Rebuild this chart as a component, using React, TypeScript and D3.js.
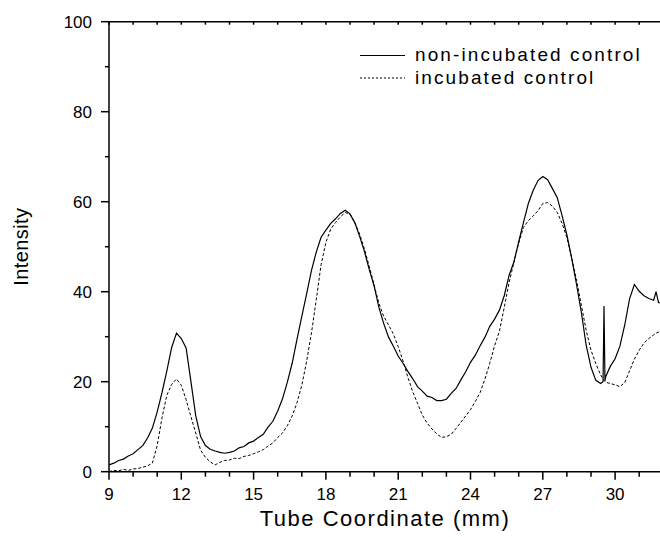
import React from "react";
import * as d3 from "d3";

const xs = [
  9.0, 9.2, 9.4, 9.6, 9.8, 10.0, 10.2, 10.4, 10.6, 10.8, 11.0, 11.2, 11.4, 11.6, 11.8, 12.0, 12.2, 12.4, 12.6, 12.8,
  13.0, 13.2, 13.4, 13.6, 13.8, 14.0, 14.2, 14.4, 14.6, 14.8, 15.0, 15.2, 15.4, 15.6, 15.8, 16.0, 16.2, 16.4, 16.6, 16.8,
  17.0, 17.2, 17.4, 17.6, 17.8, 18.0, 18.2, 18.4, 18.6, 18.8, 19.0, 19.2, 19.4, 19.6, 19.8, 20.0, 20.2, 20.4, 20.6, 20.8,
  21.0, 21.2, 21.4, 21.6, 21.8, 22.0, 22.2, 22.4, 22.6, 22.8, 23.0, 23.2, 23.4, 23.6, 23.8, 24.0, 24.2, 24.4, 24.6, 24.8,
  25.0, 25.2, 25.4, 25.6, 25.8, 26.0, 26.2, 26.4, 26.6, 26.8, 27.0, 27.2, 27.4, 27.6, 27.8, 28.0, 28.2, 28.4, 28.6, 28.8,
  29.0, 29.2, 29.4, 29.5, 29.54, 29.58, 29.6, 29.8, 30.0, 30.2, 30.4, 30.6, 30.8, 31.0, 31.2, 31.4, 31.6, 31.7, 31.8, 31.9,
];

const nonIncubated = [
  1.5, 1.9, 2.5, 2.8, 3.5, 4.0, 4.9, 5.8, 7.5, 9.7, 13.3, 17.6, 22.4, 27.6, 30.8, 29.6, 27.5, 20.0, 12.4, 7.8,
  5.8, 5.0, 4.6, 4.3, 4.1, 4.3, 4.6, 5.3, 5.6, 6.4, 6.8, 7.6, 8.3, 9.9, 11.2, 13.5, 16.2, 19.9, 24.1, 29.4,
  34.5, 39.5, 44.7, 48.8, 52.1, 53.7, 55.2, 56.2, 57.4, 58.1, 57.3, 55.3, 52.3, 48.9, 44.9, 41.3, 36.5, 32.9, 29.9, 27.9,
  25.7, 24.1, 22.3, 20.7, 18.9, 17.9, 16.8, 16.5, 15.8, 15.8, 16.1, 17.4, 18.5, 20.4, 22.2, 24.3, 25.9, 28.0, 29.9, 32.3,
  33.9, 35.9, 39.1, 43.6, 46.6, 51.1, 55.4, 59.6, 62.5, 64.7, 65.6, 64.9, 62.9, 60.9, 56.9, 52.6, 47.4, 41.6, 35.4, 28.1,
  23.2, 20.3, 19.6, 20.0, 36.8, 20.2, 21.0, 23.4, 25.1, 27.9, 32.6, 38.4, 41.6, 40.1, 39.1, 38.5, 38.1, 40.0, 37.6, 37.5,
];

const incubated = [
  0.0, 0.3, 0.2, 0.5, 0.3, 0.6, 0.7, 1.0, 1.3, 1.9, 5.8, 12.0, 17.0, 19.4, 20.6, 19.2, 16.0, 12.2, 8.6, 4.8,
  3.2, 2.2, 1.5, 2.1, 2.5, 2.6, 3.0, 2.9, 3.4, 3.6, 4.0, 4.4, 4.9, 5.7, 6.4, 7.6, 8.6, 10.2, 12.4, 15.3,
  19.2, 24.5, 30.8, 38.2, 46.0, 51.0, 53.9, 55.4, 56.6, 57.6, 57.2, 55.4, 52.8, 49.5, 45.6, 41.5, 37.4, 34.5, 32.6, 30.6,
  27.8, 24.6, 21.0, 17.8, 15.2, 12.6, 10.8, 9.5, 8.4, 7.6, 7.8, 8.3, 9.6, 11.0, 12.4, 13.8, 15.6, 17.6, 20.6, 24.1,
  28.0, 31.2, 36.5, 42.0, 46.5, 50.8, 54.3, 55.8, 56.8, 58.0, 59.6, 59.8, 59.0, 57.6, 55.2, 52.0, 47.5, 42.6, 37.0, 31.4,
  27.0, 24.0, 21.5, 20.6, 20.3, 20.0, 19.9, 19.6, 19.3, 18.9, 19.8, 22.4, 25.0, 27.0, 28.6, 29.6, 30.4, 30.8, 31.0, 31.1,
];

const xTickLabels = [9, 12, 15, 18, 21, 24, 27, 30];
const yTickLabels = [0, 20, 40, 60, 80, 100];
const seriesNames = ["non-incubated control", "incubated control"];

const FONT = "'Liberation Sans', Arial, sans-serif";

export default function App() {
  const x = d3.scaleLinear().domain([9, 32]).range([109, 663.3]);
  const y = d3.scaleLinear().domain([0, 100]).range([471.7, 21.7]);
  const line = d3
    .line<number>()
    .x((_, i) => x(xs[i]))
    .y((v) => y(v));

  const minorX = d3.range(9, 32.01, 1);
  const minorY = d3.range(0, 100.01, 10);
  const x0 = x(9);
  const y0 = y(0);
  const yTop = y(100);

  return (
    <svg
      width={660}
      height={537}
      style={{ position: "absolute", left: 0, top: 0, background: "#fff" }}
      fontFamily={FONT}
    >
      <rect x={0} y={0} width={660} height={537} fill="#fff" />
      <defs>
        <clipPath id="plot">
          <rect x={x0} y={yTop - 5} width={660 - x0} height={y0 - yTop + 5} />
        </clipPath>
      </defs>
      <g clipPath="url(#plot)">
        <path d={line(incubated) || ""} fill="none" stroke="#000" strokeWidth={1} strokeDasharray="3,2" />
        <path d={line(nonIncubated) || ""} fill="none" stroke="#000" strokeWidth={1.2} />
      </g>

      {/* axes lines */}
      <line x1={x0} x2={660} y1={y0} y2={y0} stroke="#000" strokeWidth={1.5} />
      <line x1={x0} x2={660} y1={yTop} y2={yTop} stroke="#000" strokeWidth={1.5} />
      <line x1={x0} x2={x0} y1={yTop} y2={y0} stroke="#000" strokeWidth={1.5} />

      {/* x ticks */}
      {minorX.map((t) => {
        const major = xTickLabels.includes(t);
        return (
          <g key={"xt" + t}>
            <line x1={x(t)} x2={x(t)} y1={y0} y2={y0 + (major ? 8 : 5)} stroke="#000" strokeWidth={1.5} />
            <line x1={x(t)} x2={x(t)} y1={yTop} y2={yTop + 3} stroke="#000" strokeWidth={1.5} />
          </g>
        );
      })}
      {xTickLabels.map((t) => (
        <text key={"xl" + t} x={x(t)} y={y0 + 28} textAnchor="middle" fontSize={17}>
          {t}
        </text>
      ))}

      {/* y ticks */}
      {minorY.map((t) => {
        const major = yTickLabels.includes(t);
        return (
          <line key={"yt" + t} x1={x0} x2={x0 - (major ? 8 : 4)} y1={y(t)} y2={y(t)} stroke="#000" strokeWidth={1.5} />
        );
      })}
      {yTickLabels.map((t) => (
        <text key={"yl" + t} x={92} y={y(t)} dy="0.36em" textAnchor="end" fontSize={17}>
          {t}
        </text>
      ))}

      {/* axis titles */}
      <text x={385} y={526} textAnchor="middle" fontSize={22} letterSpacing={1.5}>
        Tube Coordinate (mm)
      </text>
      <text
        transform={`translate(28, ${(yTop + y0) / 2}) rotate(-90)`}
        textAnchor="middle"
        fontSize={20}
        letterSpacing={0.4}
      >
        Intensity
      </text>

      {/* legend */}
      <line x1={360} x2={405} y1={55.5} y2={55.5} stroke="#000" strokeWidth={1.2} />
      <text x={415} y={61} fontSize={19} letterSpacing={2.1}>
        {seriesNames[0]}
      </text>
      <line x1={360} x2={405} y1={78} y2={78} stroke="#000" strokeWidth={1} strokeDasharray="2,2" />
      <text x={415} y={84} fontSize={19} letterSpacing={2.1}>
        {seriesNames[1]}
      </text>
    </svg>
  );
}
